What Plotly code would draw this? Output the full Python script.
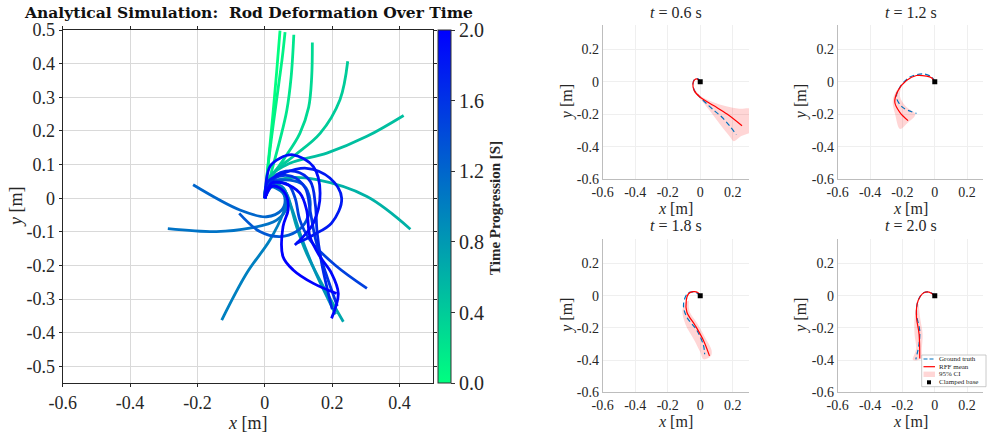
import plotly.graph_objects as go
from plotly.colors import sample_colorscale

SERIF = "Liberation Serif, Times New Roman, serif"
TITLE_FONT = "DejaVu Serif"
W, H = 990, 438

# ---------------- Data: left panel (rod shapes over time) ----------------
rod_times = [0.0, 0.1, 0.2, 0.3, 0.4, 0.5, 0.6, 0.7, 0.85, 1.0,
             1.1, 1.2, 1.3, 1.5, 1.6, 1.7, 1.8, 1.9, 1.95, 2.0]
rod_x = [
    [0, 0.012, 0.024, 0.035, 0.045],
    [0, 0.01, 0.025, 0.04, 0.052, 0.06],
    [0, 0.02, 0.045, 0.065, 0.078, 0.086],
    [0, 0.025, 0.055, 0.104, 0.13, 0.139, 0.141],
    [0, 0.025, 0.084, 0.164, 0.223, 0.246],
    [0, 0.015, 0.074, 0.184, 0.303, 0.412],
    [0, 0.005, 0.064, 0.154, 0.303, 0.432],
    [0, 0.015, 0.054, 0.074, 0.094, 0.124, 0.174, 0.233],
    [0, 0.02, 0.06, 0.08, 0.11, 0.15, 0.21],
    [0, 0.02, 0.05, 0.065, 0.054, 0.015, -0.054, -0.128],
    [0, 0.015, 0.054, 0.065, 0.035, -0.045, -0.144, -0.288],
    [0, 0.005, 0.045, 0.06, 0.05, 0.005, -0.074, -0.213],
    [0, 0.025, 0.074, 0.114, 0.134, 0.124, 0.094, 0.045, -0.015, -0.076],
    [0, 0.03, 0.07, 0.09, 0.104, 0.134, 0.21, 0.303],
    [0, 0.03, 0.08, 0.12, 0.135, 0.15, 0.18, 0.215],
    [0, 0.035, 0.09, 0.135, 0.15, 0.155, 0.17, 0.2],
    [0, 0.01, 0.054, 0.124, 0.193, 0.228, 0.198, 0.144, 0.094],
    [0, 0.015, 0.045, 0.084, 0.144, 0.164, 0.144, 0.114, 0.089],
    [0, 0.02, 0.054, 0.104, 0.124, 0.134, 0.164, 0.198, 0.218, 0.198],
    [0, 0.02, 0.045, 0.065, 0.069, 0.054, 0.054, 0.084, 0.144, 0.213],
]
rod_y = [
    [0, 0.125, 0.25, 0.375, 0.498],
    [0, 0.1, 0.22, 0.33, 0.42, 0.494],
    [0, 0.08, 0.174, 0.26, 0.36, 0.486],
    [0, 0.07, 0.114, 0.193, 0.27, 0.36, 0.463],
    [0, 0.074, 0.124, 0.193, 0.293, 0.407],
    [0, 0.064, 0.104, 0.134, 0.184, 0.246],
    [0, 0.035, 0.06, 0.055, 0.005, -0.092],
    [0, 0.045, 0.03, -0.015, -0.084, -0.164, -0.263, -0.367],
    [0, 0.04, 0.02, -0.03, -0.12, -0.22, -0.345],
    [0, 0.04, 0.035, 0.005, -0.045, -0.124, -0.223, -0.362],
    [0, 0.033, 0.015, -0.025, -0.065, -0.089, -0.099, -0.09],
    [0, 0.03, 0.03, -0.005, -0.035, -0.055, -0.035, 0.04],
    [0, 0.05, 0.054, 0.04, -0.005, -0.065, -0.099, -0.114, -0.099, -0.045],
    [0, 0.045, 0.04, 0.0, -0.065, -0.124, -0.2, -0.268],
    [0, 0.06, 0.065, 0.03, -0.04, -0.12, -0.22, -0.32],
    [0, 0.07, 0.08, 0.05, -0.02, -0.1, -0.2, -0.33],
    [0, 0.05, 0.074, 0.089, 0.06, 0.0, -0.074, -0.109, -0.134],
    [0, 0.094, 0.119, 0.129, 0.094, 0.015, -0.074, -0.114, -0.139],
    [0, 0.045, 0.045, 0.015, -0.035, -0.114, -0.174, -0.223, -0.283, -0.357],
    [0, 0.035, 0.03, 0.005, -0.035, -0.084, -0.174, -0.213, -0.253, -0.283],
]

main_xticks = [-0.6, -0.4, -0.2, 0, 0.2, 0.4]
main_xticktext = ["-0.6", "-0.4", "-0.2", "0", "0.2", "0.4"]
main_yticks = [-0.5, -0.4, -0.3, -0.2, -0.1, 0, 0.1, 0.2, 0.3, 0.4, 0.5]
main_yticktext = ["-0.5", "-0.4", "-0.3", "-0.2", "-0.1", "0", "0.1", "0.2", "0.3", "0.4", "0.5"]
cbar_ticks = [0.0, 0.4, 0.8, 1.2, 1.6, 2.0]
cbar_ticktext = ["0.0", "0.4", "0.8", "1.2", "1.6", "2.0"]

# ---------------- Data: right panels (RFF reconstruction) ----------------
panel_times = ["0.6", "1.2", "1.8", "2.0"]
gt_x = [
    [0, -0.015, -0.035, -0.045, -0.035, -0.005, 0.041, 0.09, 0.134, 0.18, 0.222],
    [0, -0.02, -0.072, -0.154, -0.216, -0.237, -0.198, -0.113],
    [0, -0.03, -0.06, -0.082, -0.103, -0.082, -0.02, 0.02, 0.027],
    [0, -0.03, -0.072, -0.103, -0.113, -0.093, -0.097, -0.117],
]
gt_y = [
    [0, 0.02, 0.015, -0.015, -0.055, -0.09, -0.136, -0.18, -0.218, -0.27, -0.325],
    [0, 0.03, 0.049, 0.029, -0.033, -0.095, -0.157, -0.194],
    [0, 0.022, 0.022, 0.01, -0.062, -0.134, -0.216, -0.309, -0.364],
    [0, 0.022, 0.016, -0.031, -0.113, -0.216, -0.298, -0.395],
]
rff_x = [
    [0, -0.02, -0.035, -0.045, -0.037, 0.0, 0.082, 0.165, 0.257],
    [0, -0.02, -0.051, -0.113, -0.175, -0.227, -0.247, -0.216, -0.165],
    [0, -0.015, -0.045, -0.072, -0.086, -0.082, -0.031, 0.02, 0.057],
    [0, -0.035, -0.065, -0.09, -0.109, -0.113, -0.097, -0.093],
]
rff_y = [
    [0, 0.018, 0.012, -0.012, -0.054, -0.095, -0.146, -0.198, -0.27],
    [0, 0.025, 0.035, 0.039, 0.008, -0.054, -0.126, -0.188, -0.239],
    [0, 0.02, 0.025, 0.012, -0.031, -0.103, -0.185, -0.278, -0.374],
    [0, 0.022, 0.02, -0.005, -0.051, -0.134, -0.237, -0.39],
]
ci_a_x = [
    [-0.03, 0.0, 0.08, 0.16, 0.24, 0.32],
    [-0.2, -0.24, -0.26, -0.245, -0.215],
    [-0.09, -0.11, -0.09, -0.04, 0.0, 0.02],
    [-0.11, -0.125, -0.125, -0.115, -0.135],
]
ci_a_y = [
    [-0.05, -0.085, -0.125, -0.15, -0.165, -0.17],
    [-0.02, -0.06, -0.12, -0.2, -0.29],
    [-0.04, -0.09, -0.18, -0.27, -0.35, -0.395],
    [-0.06, -0.14, -0.24, -0.33, -0.4],
]
ci_b_x = [
    [-0.04, 0.0, 0.06, 0.12, 0.18, 0.206, 0.25, 0.32],
    [-0.21, -0.215, -0.18, -0.12, -0.17],
    [-0.07, -0.065, -0.02, 0.03, 0.07, 0.065],
    [-0.1, -0.09, -0.075, -0.08, -0.085],
]
ci_b_y = [
    [-0.06, -0.105, -0.18, -0.26, -0.335, -0.365, -0.335, -0.3],
    [-0.04, -0.09, -0.15, -0.2, -0.255],
    [-0.03, -0.1, -0.17, -0.26, -0.34, -0.375],
    [-0.05, -0.14, -0.24, -0.33, -0.39],
]
base_x = [0.0]
base_y = [0.0]
sub_ticks = [-0.6, -0.4, -0.2, 0, 0.2]
sub_ticktext = ["-0.6", "-0.4", "-0.2", "0", "0.2"]
legend_labels = ["Ground truth", "RFF mean", "95% CI", "Clamped base"]

# ---------------- Style ----------------
cscale = [[0.0, "rgb(0,255,128)"], [1.0, "rgb(0,0,255)"]]
GT_COLOR = "#0072BD"
RFF_COLOR = "#ff0000"
CI_COLOR = "rgba(255,0,0,0.16)"


def px(x):
    return x / W


def py(y):
    return 1 - y / H


fig = go.Figure()

# Left panel rods
for t, xs, ys in zip(rod_times, rod_x, rod_y):
    col = sample_colorscale(cscale, [t / 2.0])[0]
    fig.add_trace(go.Scatter(x=xs, y=ys, mode="lines",
                             line=dict(color=col, width=2.8, shape="spline", smoothing=1.0),
                             showlegend=False, hoverinfo="skip", xaxis="x", yaxis="y"))

# colorbar carrier
cbar = dict(thickness=13, len=353.3 / H, lenmode="fraction",
            y=py((30 + 383.3) / 2), yanchor="middle",
            x=px(438), xanchor="left", xpad=0, ypad=0,
            outlinewidth=1, outlinecolor="#333333",
            tickvals=cbar_ticks, ticktext=cbar_ticktext,
            ticks="outside", ticklen=4, tickcolor="#333333",
            tickfont=dict(family=SERIF, size=20, color="#262626"))
fig.add_trace(go.Scatter(
    x=[None], y=[None], mode="markers", showlegend=False, hoverinfo="skip",
    xaxis="x", yaxis="y",
    marker=dict(color=[0], cmin=0, cmax=2, colorscale=cscale, showscale=True,
                colorbar=cbar)))

# Right panels
sub_axes = [("x2", "y2"), ("x3", "y3"), ("x4", "y4"), ("x5", "y5")]
for i, (xa, ya) in enumerate(sub_axes):
    poly_x = ci_a_x[i] + ci_b_x[i][::-1]
    poly_y = ci_a_y[i] + ci_b_y[i][::-1]
    fig.add_trace(go.Scatter(x=poly_x, y=poly_y, mode="lines", fill="toself",
                             fillcolor=CI_COLOR, line=dict(width=0, shape="spline"),
                             name="95% CI", showlegend=False, hoverinfo="skip",
                             xaxis=xa, yaxis=ya))
    fig.add_trace(go.Scatter(x=gt_x[i], y=gt_y[i], mode="lines",
                             line=dict(color=GT_COLOR, width=1.2, dash="5px,3px", shape="spline"),
                             name="Ground truth", showlegend=False, hoverinfo="skip",
                             xaxis=xa, yaxis=ya))
    fig.add_trace(go.Scatter(x=rff_x[i], y=rff_y[i], mode="lines",
                             line=dict(color=RFF_COLOR, width=1.2, shape="spline"),
                             name="RFF mean", showlegend=False, hoverinfo="skip",
                             xaxis=xa, yaxis=ya))
    fig.add_trace(go.Scatter(x=base_x, y=base_y, mode="markers",
                             marker=dict(symbol="square", size=5, color="black"),
                             name="Clamped base", showlegend=False, hoverinfo="skip",
                             xaxis=xa, yaxis=ya))

layout = dict(
    width=W, height=H, margin=dict(l=0, r=0, t=0, b=0, pad=0, autoexpand=False),
    paper_bgcolor="white", plot_bgcolor="white", showlegend=False,
    font=dict(family=SERIF, color="#262626"),
    xaxis=dict(domain=[px(62.7), px(433.3)], range=[-0.6, 0.5], anchor="y",
               tickvals=main_xticks, ticktext=main_xticktext,
               showgrid=True, gridcolor="#d9d9d9", gridwidth=1, zeroline=False,
               showline=True, linecolor="#262626", linewidth=1, mirror="ticks",
               ticks="outside", ticklen=3, tickcolor="#262626", automargin=False,
               tickfont=dict(family=SERIF, size=18, color="#262626")),
    yaxis=dict(domain=[py(383.3), py(30)], range=[-0.55, 0.5], anchor="x",
               tickvals=main_yticks, ticktext=main_yticktext,
               showgrid=True, gridcolor="#d9d9d9", gridwidth=1, zeroline=False,
               showline=True, linecolor="#262626", linewidth=1, mirror="ticks",
               ticks="outside", ticklen=3, tickcolor="#262626", automargin=False,
               tickfont=dict(family=SERIF, size=18, color="#262626")),
)

sub_dom_x = [(602.7, 749.0), (837.7, 983.3), (602.7, 749.0), (837.7, 983.3)]
sub_dom_y = [(25.0, 179.3), (25.0, 179.3), (239.3, 392.3), (239.3, 392.3)]
for i in range(4):
    n = i + 2
    layout[f"xaxis{n}"] = dict(domain=[px(sub_dom_x[i][0]), px(sub_dom_x[i][1])],
                               range=[-0.6, 0.3], anchor=f"y{n}",
                               tickvals=sub_ticks, ticktext=sub_ticktext,
                               showgrid=True, gridcolor="#efefef", zeroline=False,
                               showline=True, linecolor="#bdbdbd", linewidth=1,
                               ticks="", automargin=False,
                               tickfont=dict(family=SERIF, size=14, color="#262626"))
    layout[f"yaxis{n}"] = dict(domain=[py(sub_dom_y[i][1]), py(sub_dom_y[i][0])],
                               range=[-0.6, 0.35], anchor=f"x{n}",
                               tickvals=sub_ticks, ticktext=sub_ticktext,
                               showgrid=True, gridcolor="#efefef", zeroline=False,
                               showline=True, linecolor="#bdbdbd", linewidth=1,
                               ticks="", automargin=False,
                               tickfont=dict(family=SERIF, size=14, color="#262626"))

fig.update_layout(**layout)

ann = []
ann.append(dict(x=px(248), y=py(13), xref="paper", yref="paper", showarrow=False,
                text="<b>Analytical Simulation:  Rod Deformation Over Time</b>",
                font=dict(family=TITLE_FONT, size=15.5, color="#111111"),
                xanchor="center", yanchor="middle"))
ann.append(dict(x=px(248), y=py(423), xref="paper", yref="paper", showarrow=False,
                text="<i>x</i> [m]", font=dict(family=SERIF, size=18),
                xanchor="center", yanchor="middle"))
ann.append(dict(x=px(16), y=py(207), xref="paper", yref="paper", showarrow=False,
                text="<i>y</i> [m]", font=dict(family=SERIF, size=18), textangle=-90,
                xanchor="center", yanchor="middle"))
ann.append(dict(x=px(495), y=py(208), xref="paper", yref="paper", showarrow=False,
                text="<b>Time Progression [S]</b>", font=dict(family=SERIF, size=15),
                textangle=-90, xanchor="center", yanchor="middle"))

title_y = [12, 12, 225, 225]
xlab_y = [208, 208, 421, 421]
ylab_x = [567, 801, 567, 801]
for i in range(4):
    cx = (sub_dom_x[i][0] + sub_dom_x[i][1]) / 2
    cy = (sub_dom_y[i][0] + sub_dom_y[i][1]) / 2
    ann.append(dict(x=px(cx), y=py(title_y[i]), xref="paper", yref="paper", showarrow=False,
                    text=f"<i>t</i> = {panel_times[i]} s", font=dict(family=SERIF, size=16),
                    xanchor="center", yanchor="middle"))
    ann.append(dict(x=px(cx), y=py(xlab_y[i]), xref="paper", yref="paper", showarrow=False,
                    text="<i>x</i> [m]", font=dict(family=SERIF, size=16),
                    xanchor="center", yanchor="middle"))
    ann.append(dict(x=px(ylab_x[i]), y=py(cy), xref="paper", yref="paper", showarrow=False,
                    text="<i>y</i> [m]", font=dict(family=SERIF, size=16), textangle=-90,
                    xanchor="center", yanchor="middle"))

leg_rows = [359, 366.7, 374.3, 382.3]
for lab, ry in zip(legend_labels, leg_rows):
    ann.append(dict(x=px(936.5), y=py(ry), xref="paper", yref="paper", showarrow=False,
                    text=lab, font=dict(family=SERIF, size=7, color="#222222"),
                    xanchor="left", yanchor="middle"))

shapes = [
    dict(type="rect", xref="paper", yref="paper", x0=px(921.7), x1=px(986), y0=py(386.7), y1=py(355),
         line=dict(color="#bdbdbd", width=0.8), fillcolor="white", layer="above"),
    dict(type="line", xref="paper", yref="paper", x0=px(923.5), x1=px(935), y0=py(359), y1=py(359),
         line=dict(color=GT_COLOR, width=1.2, dash="4px,2px"), layer="above"),
    dict(type="line", xref="paper", yref="paper", x0=px(923.5), x1=px(935), y0=py(366.7), y1=py(366.7),
         line=dict(color=RFF_COLOR, width=1.2), layer="above"),
    dict(type="rect", xref="paper", yref="paper", x0=px(923.5), x1=px(935), y0=py(377), y1=py(371.6),
         line=dict(width=0), fillcolor=CI_COLOR, layer="above"),
    dict(type="rect", xref="paper", yref="paper", x0=px(927), x1=px(931), y0=py(384.3), y1=py(380.3),
         line=dict(width=0), fillcolor="black", layer="above"),
]

fig.update_layout(annotations=ann, shapes=shapes)
fig.write_html("out.html")
